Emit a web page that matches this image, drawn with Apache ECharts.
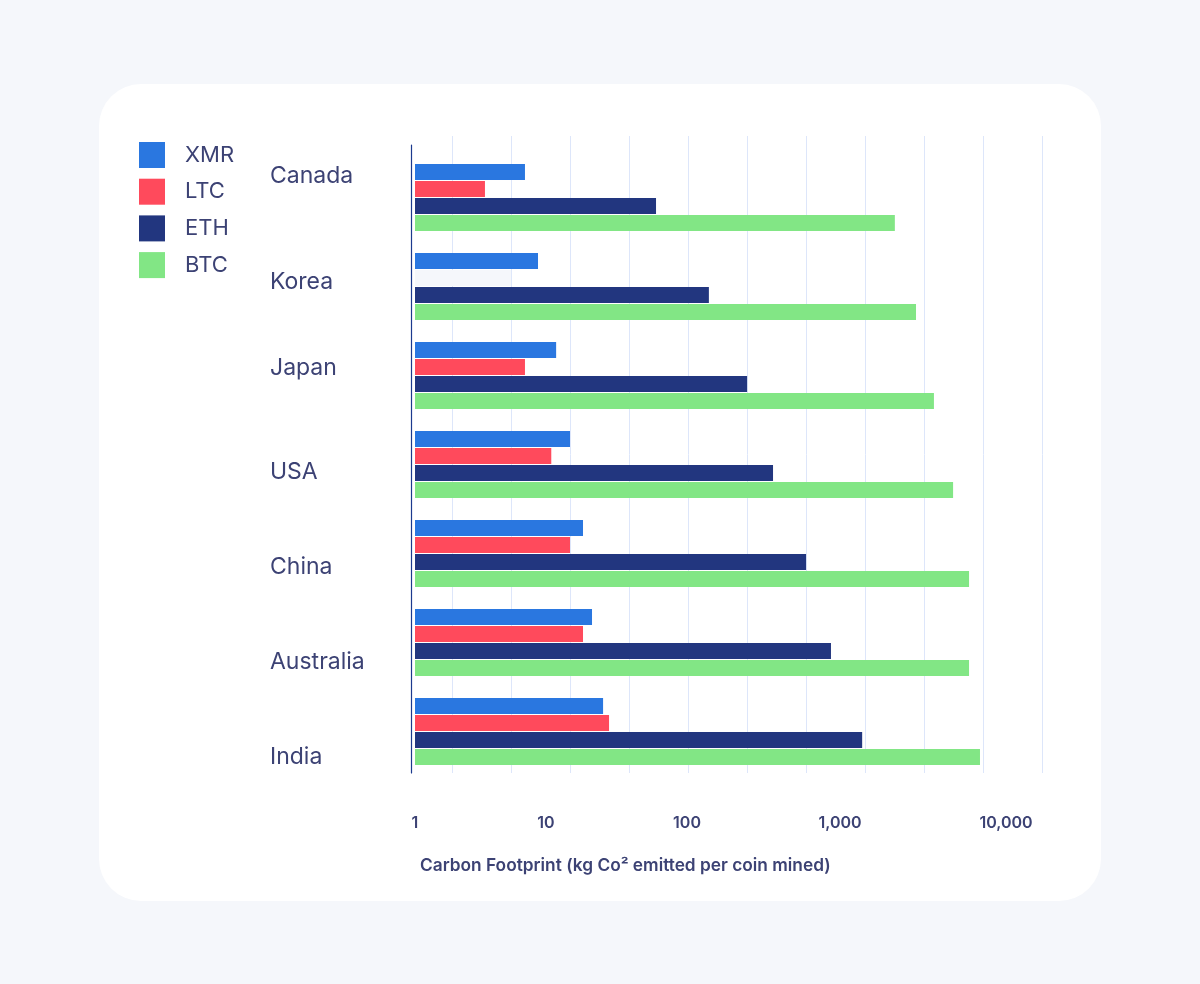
<!DOCTYPE html>
<html>
<head>
<meta charset="utf-8">
<title>Carbon Footprint</title>
<script src="https://cdn.jsdelivr.net/npm/echarts@6/dist/echarts.min.js"></script>
<style>
  html, body { margin: 0; padding: 0; background: #f5f7fb; }
  #chart { width: 1200px; height: 984px; }
</style>
</head>
<body>
<div id="chart"></div>
<script>
var countries = ['Canada', 'Korea', 'Japan', 'USA', 'China', 'Australia', 'India'];
var xmr = [6.91, 8.69, 11.8, 14.8, 18.3, 21.2, 25.4];
var ltc = [3.42, 5.41, 6.91, 10.9, 14.8, 18.3, 28.0];
var eth = [60.3, 139, 247, 365, 600, 873, 1360];
var btc = [2140, 2870, 3680, 4800, 5990, 5990, 6970];
var tickValues = [1, 10, 100, 1000, 10000];
var tickLabels = ['1', '10', '100', '1,000', '10,000'];

var textColor = '#3c4274';
var fontName = 'Inter';

// the printed decades are not evenly spaced, so each one gets its own length
var decadeEnds = [0, 131, 272, 425, 591];
function toAxis(v) {
    var l = Math.log(v) / Math.LN10;
    var d = Math.min(Math.floor(l), 3);
    return decadeEnds[d] + (l - d) * (decadeEnds[d + 1] - decadeEnds[d]);
}

// where the country names sit along the left axis, they don't follow the bars
var countryLabelPos = [31.5, 137.5, 223.5, 327.5, 422.5, 517.5, 612.5];

function makeSeries(name, values, color) {
    return {
        name: name,
        type: 'bar',
        xAxisIndex: 0,
        yAxisIndex: 0,
        barWidth: 16,
        barGap: '6.25%',
        itemStyle: { color: color },
        data: values.map(function (v, i) {
            // Korea has no LTC figure, the picture shows a pale empty bar there
            if (name === 'LTC' && countries[i] === 'Korea') {
                return { value: toAxis(v), itemStyle: { color: '#f5f7fb' } };
            }
            return toAxis(v);
        })
    };
}

var myChart = echarts.init(document.getElementById('chart'), null, { renderer: 'canvas' });
var tickPositions = tickValues.map(toAxis);
var option = {
    animation: false,
    backgroundColor: '#f5f7fb',
    textStyle: { fontFamily: fontName },
    graphic: [{
        type: 'rect',
        z: -10,
        shape: { x: 99, y: 84, width: 1002, height: 817, r: 42 },
        style: { fill: '#ffffff' }
    }],
    title: {
        text: 'Carbon Footprint (kg Co² emitted per coin mined)',
        left: 420,
        top: 857,
        padding: 0,
        textStyle: { color: textColor, fontSize: 17.3, fontWeight: 600, fontFamily: fontName }
    },
    legend: {
        orient: 'vertical',
        left: 139,
        top: 142,
        padding: 0,
        itemWidth: 26,
        itemHeight: 26,
        itemGap: 10.7,
        icon: 'rect',
        data: ['XMR', 'LTC', 'ETH', 'BTC'],
        textStyle: { color: textColor, fontSize: 22, fontFamily: fontName, padding: [2, 0, 0, 15] }
    },
    grid: [
        { left: 415, width: 627, top: 153, height: 623 },   // bars
        { left: 393, width: 649, top: 136, height: 637 },   // vertical grid lines
        { left: 411.5, width: 3, top: 145, height: 628 }    // left axis line and names
    ],
    xAxis: [
        {
            gridIndex: 0,
            type: 'value',
            min: 0,
            max: 627,
            axisLine: { show: false },
            axisTick: { show: false },
            splitLine: { show: false },
            axisLabel: {
                customValues: tickPositions,
                // customValues gives no index to the formatter, look it up by position
                formatter: function (value) {
                    return tickLabels[tickPositions.indexOf(value)];
                },
                color: textColor,
                fontSize: 16,
                fontWeight: 600,
                fontFamily: fontName,
                margin: 39
            }
        },
        {
            gridIndex: 1,
            type: 'value',
            min: 0,
            max: 11,
            interval: 1,
            axisLine: { show: false },
            axisTick: { show: false },
            axisLabel: { show: false },
            splitLine: { show: true, showMinLine: false, lineStyle: { color: '#dde6fa', width: 1 } }
        },
        { gridIndex: 2, type: 'value', min: 0, max: 1, show: false }
    ],
    yAxis: [
        {
            gridIndex: 0,
            type: 'category',
            inverse: true,
            data: countries,
            axisLine: { show: false },
            axisTick: { show: false },
            axisLabel: { show: false }
        },
        { gridIndex: 1, type: 'value', min: 0, max: 1, show: false },
        {
            gridIndex: 2,
            type: 'value',
            inverse: true,
            min: 0,
            max: 628,
            axisLine: { show: true, onZero: false, lineStyle: { color: '#1c3a8e', width: 1.2 } },
            axisTick: { show: false },
            splitLine: { show: false },
            axisLabel: {
                customValues: countryLabelPos,
                formatter: function (value) {
                    return countries[countryLabelPos.indexOf(value)];
                },
                align: 'left',
                margin: 141.5,
                color: textColor,
                fontSize: 23,
                fontFamily: fontName
            }
        }
    ],
    series: [
        makeSeries('XMR', xmr, '#2a77e0'),
        makeSeries('LTC', ltc, '#ff4a5c'),
        makeSeries('ETH', eth, '#22367f'),
        makeSeries('BTC', btc, '#82e685')
    ]
};
myChart.setOption(option);
</script>
</body>
</html>
